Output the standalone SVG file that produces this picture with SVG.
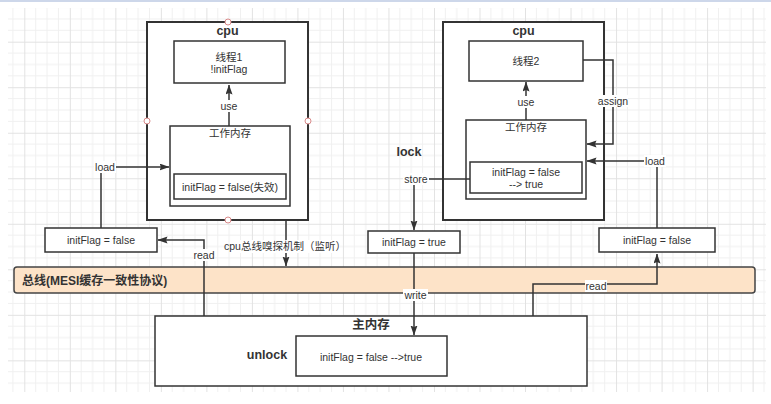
<svg xmlns="http://www.w3.org/2000/svg" width="771" height="404" viewBox="0 0 771 404">
<style>
text{font-family:"Liberation Sans","Noto Sans CJK SC",sans-serif;fill:#333;font-size:10.5px;text-anchor:middle}
.b{font-weight:bold;font-size:12.5px}
.box{fill:#fff;stroke:#333;stroke-width:1.5}
.cpu{fill:#fff;stroke:#333;stroke-width:2}
.ln{fill:none;stroke:#333;stroke-width:1.5}
.lb{fill:#fff}
.h{fill:#fff;stroke:#d98a8a;stroke-width:1}
</style>
<defs>
<pattern id="g" patternUnits="userSpaceOnUse" x="24.3" y="41.7" width="45.52" height="45.52">
<path d="M11.38 0V45.52M22.76 0V45.52M34.14 0V45.52M0 11.38H45.52M0 22.76H45.52M0 34.14H45.52" stroke="#f0f0f0" stroke-width="1" fill="none"/>
<path d="M0.5 0V45.52M0 0.5H45.52" stroke="#e2e2e2" stroke-width="1" fill="none"/>
</pattern>
<marker id="a" markerUnits="userSpaceOnUse" markerWidth="10" markerHeight="8" refX="9.5" refY="3.5" orient="auto">
<path d="M0,0 L10,3.5 L0,7 L1.5,3.5 Z" fill="#333"/>
</marker>
</defs>
<rect x="0" y="0" width="771" height="404" fill="#fff"/>
<rect x="8" y="8" width="758" height="384" fill="url(#g)"/>
<rect x="0" y="0" width="771" height="2" fill="#cdd7ea"/>

<g id="bus">
<rect x="14" y="267" width="741" height="26" rx="3" fill="#fde3c8" stroke="#444" stroke-width="1.5"/>
<text x="22" y="285" class="b" style="text-anchor:start;font-size:12px">总线(MESI缓存一致性协议)</text>
</g>

<g id="cpu1">
<rect class="cpu" x="147" y="22" width="161" height="198"/>
<text class="b" x="227.5" y="35">cpu</text>
</g>
<g id="thread1">
<rect class="box" x="174" y="41" width="111" height="42"/>
<text x="229" y="61">线程1</text>
<text x="229" y="73">!initFlag</text>
</g>
<g id="workmem1">
<rect class="box" x="170" y="126" width="120" height="80"/>
<text x="230" y="137">工作内存</text>
</g>
<g id="cache1">
<rect class="box" x="174" y="174" width="112" height="25"/>
<text x="230" y="191">initFlag = false(失效)</text>
</g>
<g id="handles">
<circle class="h" cx="228" cy="22" r="3"/>
<circle class="h" cx="147" cy="121" r="3"/>
<circle class="h" cx="308" cy="121" r="3"/>
<circle class="h" cx="228" cy="220" r="3"/>
</g>

<g id="cpu2">
<rect class="cpu" x="443" y="22" width="161" height="198"/>
<text class="b" x="523.5" y="35">cpu</text>
</g>
<g id="thread2">
<rect class="box" x="469" y="41" width="114" height="40"/>
<text x="526" y="65">线程2</text>
</g>
<g id="workmem2">
<rect class="box" x="466" y="120" width="120" height="79"/>
<text x="526" y="131">工作内存</text>
</g>
<g id="cache2">
<rect class="box" x="470" y="162" width="112" height="31"/>
<text x="526" y="176">initFlag = false</text>
<text x="526" y="188">--&gt; true</text>
</g>

<g id="lock"><text class="b" x="409" y="156">lock</text></g>

<g id="left-copy">
<rect class="box" x="45" y="228" width="112" height="24"/>
<text x="101" y="244">initFlag = false</text>
</g>
<g id="true-copy">
<rect class="box" x="368" y="231" width="92" height="22"/>
<text x="414" y="246">initFlag = true</text>
</g>
<g id="right-copy">
<rect class="box" x="599" y="228" width="116" height="24"/>
<text x="657" y="244">initFlag = false</text>
</g>

<g id="mainmem">
<rect class="box" x="155" y="316" width="432" height="70"/>
<text class="b" x="371" y="329">主内存</text>
<text class="b" x="267" y="359">unlock</text>
</g>
<g id="mainvar">
<rect class="box" x="296" y="336" width="151" height="40"/>
<text x="371" y="361">initFlag = false --&gt;true</text>
</g>

<g id="connectors">
<path class="ln" d="M229 126V85" marker-end="url(#a)"/>
<path class="ln" d="M101 228V167H169" marker-end="url(#a)"/>
<path class="ln" d="M204 316V240H158" marker-end="url(#a)"/>
<path class="ln" d="M286 220V266" marker-end="url(#a)"/>
<path class="ln" d="M526 120V82" marker-end="url(#a)"/>
<path class="ln" d="M583 60H613V144H587" marker-end="url(#a)"/>
<path class="ln" d="M657 228V161H587" marker-end="url(#a)"/>
<path class="ln" d="M470 179H414V230" marker-end="url(#a)"/>
<path class="ln" d="M414 253V335" marker-end="url(#a)"/>
<path class="ln" d="M533 316V284H657V254" marker-end="url(#a)"/>

<rect class="lb" x="219" y="100" width="20" height="12"/>
<text x="229" y="110">use</text>
<rect class="lb" x="94" y="161" width="22" height="12"/>
<text x="105" y="171">load</text>
<rect class="lb" x="193" y="249" width="22" height="12"/>
<text x="204" y="259">read</text>
<rect class="lb" x="230" y="240" width="110" height="13"/>
<text x="285" y="250">cpu总线嗅探机制（监听）</text>
<rect class="lb" x="516" y="96" width="20" height="12"/>
<text x="526" y="106">use</text>
<rect class="lb" x="598" y="95" width="30" height="12"/>
<text x="613" y="105">assign</text>
<rect class="lb" x="644" y="155" width="22" height="12"/>
<text x="655" y="165">load</text>
<rect class="lb" x="403" y="173" width="26" height="12"/>
<text x="416" y="183">store</text>
<rect class="lb" x="403" y="289" width="25" height="12"/>
<text x="415.5" y="299">write</text>
<rect class="lb" x="585" y="280" width="22" height="12"/>
<text x="596" y="290">read</text>
</g>
</svg>
